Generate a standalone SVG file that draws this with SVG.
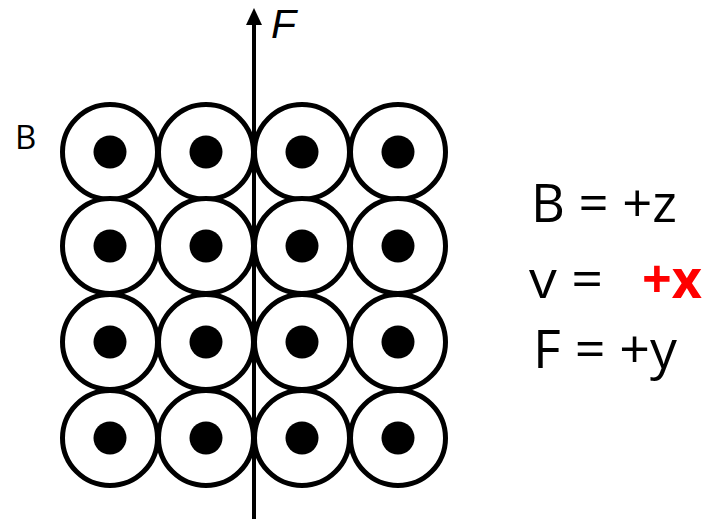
<svg xmlns="http://www.w3.org/2000/svg" width="711" height="519" viewBox="0 0 711 519">
<style>
.ring{fill:#fff;stroke:#000;stroke-width:5}
.dot{fill:#000}
.t{font-family:"Open Sans","Liberation Sans",sans-serif;fill:#000}
</style>
<defs>
<marker id="ah" viewBox="0 0 17 16" refX="0" refY="8" markerWidth="17" markerHeight="16" markerUnits="userSpaceOnUse" orient="auto">
<path d="M0,0 L17,8 L0,16 Z" fill="#000"/>
</marker>
<g id="cell"><circle class="ring" r="47.5"/><circle class="dot" r="16.5"/></g>
</defs>
<rect width="711" height="519" fill="#fff"/>
<g id="grid">
<g id="r1c1"><use href="#cell" x="110" y="152"/></g>
<g id="r1c2"><use href="#cell" x="206" y="152"/></g>
<g id="r1c3"><use href="#cell" x="302" y="152"/></g>
<g id="r1c4"><use href="#cell" x="398" y="152"/></g>
<g id="r2c1"><use href="#cell" x="110" y="246"/></g>
<g id="r2c2"><use href="#cell" x="206" y="246"/></g>
<g id="r2c3"><use href="#cell" x="302" y="246"/></g>
<g id="r2c4"><use href="#cell" x="398" y="246"/></g>
<g id="r3c1"><use href="#cell" x="110" y="342"/></g>
<g id="r3c2"><use href="#cell" x="206" y="342"/></g>
<g id="r3c3"><use href="#cell" x="302" y="342"/></g>
<g id="r3c4"><use href="#cell" x="398" y="342"/></g>
<g id="r4c1"><use href="#cell" x="110" y="438"/></g>
<g id="r4c2"><use href="#cell" x="206" y="438"/></g>
<g id="r4c3"><use href="#cell" x="302" y="438"/></g>
<g id="r4c4"><use href="#cell" x="398" y="438"/></g>
</g>
<g id="connectors">
<line x1="254" y1="519" x2="254" y2="25" stroke="#000" stroke-width="4" marker-end="url(#ah)"/>
</g>
<g id="labels">
<text x="271" y="38" font-size="41" font-style="italic" font-family="Liberation Sans, Arial, sans-serif" fill="#000">F</text>
<text class="t" x="15" y="149" font-size="33">B</text>
<text class="t" x="531" y="222" font-size="53" textLength="146" lengthAdjust="spacingAndGlyphs">B = +z</text>
<text class="t" x="529" y="298" font-size="53" textLength="74" lengthAdjust="spacingAndGlyphs">v =</text>
<text x="642" y="298" font-size="53" font-weight="bold" font-family="Open Sans, Liberation Sans, sans-serif" fill="#ff0000" textLength="60" lengthAdjust="spacingAndGlyphs">+x</text>
<text class="t" x="533" y="368" font-size="53" textLength="144" lengthAdjust="spacingAndGlyphs">F = +y</text>
</g>
</svg>
